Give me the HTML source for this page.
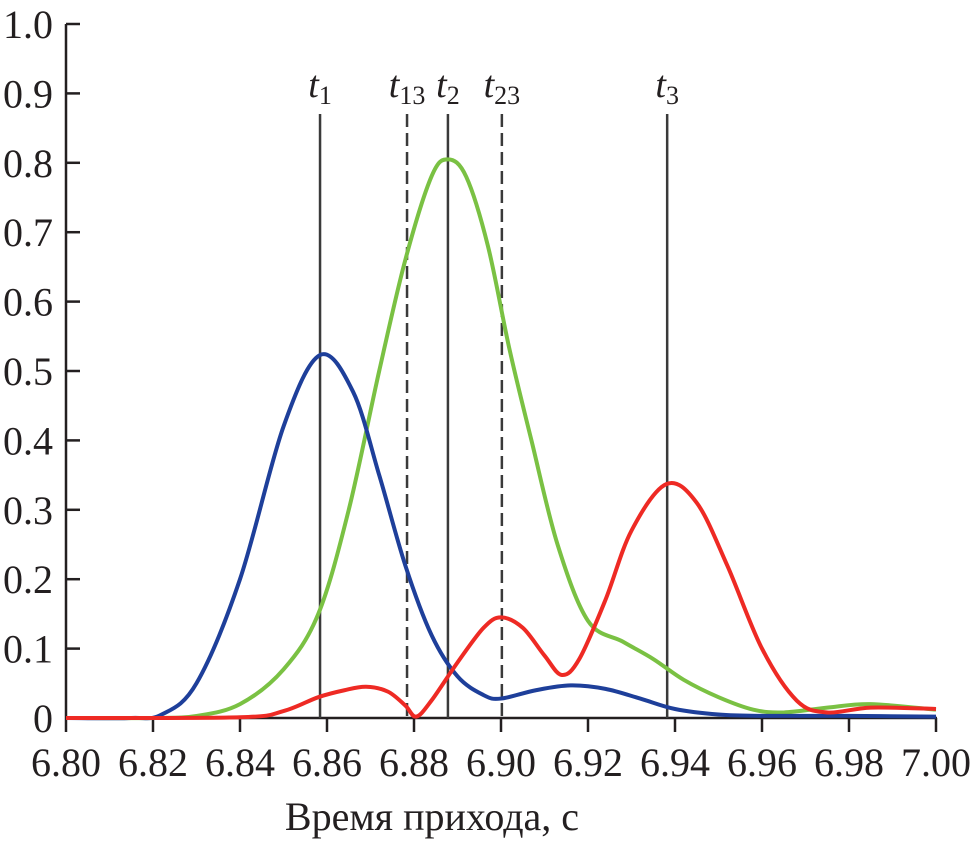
<!DOCTYPE html>
<html><head><meta charset="utf-8"><style>
html,body{margin:0;padding:0;background:#fff;}
svg{display:block;font-family:"Liberation Serif",serif;}
</style></head><body>
<svg id="chart" width="973" height="842" viewBox="0 0 973 842">
<g id="axes"></g><g id="vlines"></g><g id="series"></g>
<text x="432" y="830" font-size="40" text-anchor="middle" fill="#231f20">Время прихода, с</text>
</svg>
<script>
const xTicks=[6.80,6.82,6.84,6.86,6.88,6.90,6.92,6.94,6.96,6.98,7.00];
const yTicks=[0,0.1,0.2,0.3,0.4,0.5,0.6,0.7,0.8,0.9,1.0];
const blueX=[6.80,6.815,6.822,6.83,6.84,6.85,6.8584,6.866,6.872,6.878,6.884,6.890,6.896,6.900,6.908,6.916,6.924,6.932,6.940,6.950,6.960,6.980,7.00];
const blueY=[0,0,0.005,0.05,0.2,0.42,0.523,0.47,0.35,0.22,0.12,0.06,0.033,0.028,0.04,0.047,0.042,0.028,0.013,0.005,0.003,0.003,0.002];
const greenX=[6.80,6.82,6.83,6.84,6.85,6.858,6.865,6.872,6.878,6.884,6.8878,6.892,6.897,6.902,6.907,6.913,6.920,6.928,6.935,6.942,6.950,6.958,6.965,6.975,6.985,7.00];
const greenY=[0,0,0.003,0.02,0.07,0.15,0.3,0.5,0.66,0.78,0.805,0.78,0.68,0.53,0.4,0.25,0.14,0.11,0.085,0.055,0.03,0.012,0.008,0.015,0.02,0.012];
const redX=[6.80,6.84,6.85,6.858,6.864,6.869,6.874,6.878,6.8805,6.884,6.890,6.896,6.900,6.905,6.910,6.914,6.918,6.924,6.930,6.938,6.945,6.952,6.960,6.968,6.975,6.985,7.00];
const redY=[0,0.001,0.01,0.03,0.04,0.045,0.038,0.018,0.002,0.025,0.08,0.13,0.145,0.13,0.09,0.062,0.085,0.17,0.27,0.337,0.31,0.22,0.1,0.025,0.008,0.015,0.013];
const markerNames=["t1","t13","t2","t23","t3"];
const markerX=[6.8584,6.8784,6.8878,6.9002,6.9382];
const markerDashed=[false,true,false,true,false];
const NS="http://www.w3.org/2000/svg";
const X=v=>66+(v-6.80)*4350, Y=v=>718-694*v;
function mk(t,a,p){const e=document.createElementNS(NS,t);for(const k in a)e.setAttribute(k,a[k]);p.appendChild(e);return e;}
const ax=document.getElementById('axes');
let l=mk('line',{x1:66,y1:24,x2:66,y2:718,stroke:'#231f20','stroke-width':2.5},ax);


l=mk('line',{x1:66,y1:718,x2:937,y2:718,stroke:'#231f20','stroke-width':2.5},ax);


yTicks.forEach(v=>{const t=mk('line',{x1:66,y1:Y(v),x2:80,y2:Y(v),stroke:'#231f20','stroke-width':2.5},ax);


const tx=mk('text',{x:53,y:Y(v)+14,'font-size':40,'text-anchor':'end',fill:'#231f20'},ax);tx.textContent=v===0?'0':v.toFixed(1);

});
xTicks.forEach(v=>{const t=mk('line',{x1:X(v),y1:718,x2:X(v),y2:732,stroke:'#231f20','stroke-width':2.5},ax);


const tx=mk('text',{x:X(v),y:776,'font-size':40,'text-anchor':'middle',fill:'#231f20'},ax);tx.textContent=v.toFixed(2);

});
const vl=document.getElementById('vlines');
markerX.forEach((v,i)=>{const a={x1:X(v),y1:114,x2:X(v),y2:718,stroke:'#3a3a3a','stroke-width':2.5};if(markerDashed[i])a['stroke-dasharray']='13,6';
const e=mk('line',a,vl);


const tx=mk('text',{x:X(v),y:97,'font-size':38,'text-anchor':'middle',fill:'#231f20'},vl);
tx.innerHTML='<tspan font-style="italic">t</tspan><tspan font-size="26" dy="7">'+markerNames[i].slice(1)+'</tspan>';

});
function path(xs,ys){const p=xs.map((x,i)=>[X(x),Y(ys[i])]);let d='M'+p[0][0]+','+p[0][1];
for(let i=0;i<p.length-1;i++){const p0=p[i-1]||p[i],p1=p[i],p2=p[i+1],p3=p[i+2]||p2;
d+=' C'+(p1[0]+(p2[0]-p0[0])/6)+','+(p1[1]+(p2[1]-p0[1])/6)+' '+(p2[0]-(p3[0]-p1[0])/6)+','+(p2[1]-(p3[1]-p1[1])/6)+' '+p2[0]+','+p2[1];}return d;}
const sg=document.getElementById('series');
let s=mk('path',{d:path(greenX,greenY),fill:'none',stroke:'#7ac143','stroke-width':4},sg);


s=mk('path',{d:path(blueX,blueY),fill:'none',stroke:'#1e3f9a','stroke-width':4},sg);


s=mk('path',{d:path(redX,redY),fill:'none',stroke:'#ee2a24','stroke-width':4},sg);


</script>
</body></html>
